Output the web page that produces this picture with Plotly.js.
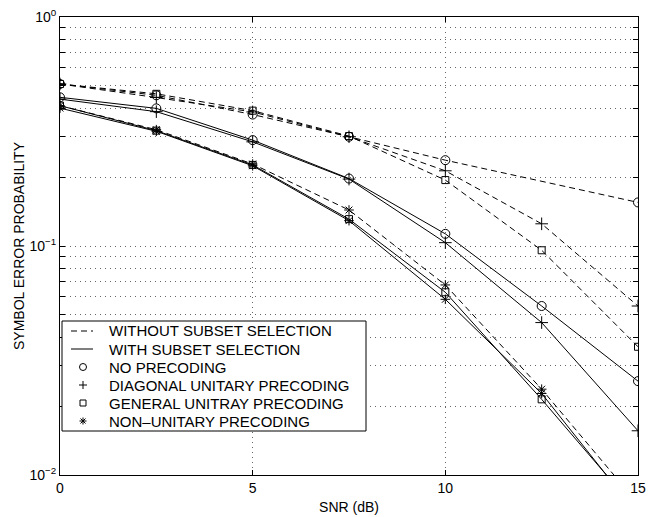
<!DOCTYPE html>
<html>
<head>
<meta charset="utf-8">
<script src="https://cdn.plot.ly/plotly-3.0.1.min.js"></script>
<style>html,body{margin:0;padding:0;background:#fff;}#chart{width:649px;height:517px;}</style>
</head>
<body>
<div id="chart"></div>
<script>
// SNR values (dB)
var snr = [0, 2.5, 5, 7.5, 10, 12.5, 15];
var snrNoSelNoPrec = [0, 2.5, 5, 7.5, 10, 15];

// WITHOUT subset selection (dashed)
var noSel_noPrec   = [0.51, 0.455, 0.375, 0.30, 0.237, 0.155];
var noSel_diag     = [0.51, 0.445, 0.385, 0.30, 0.213, 0.125, 0.0547];
var noSel_general  = [0.51, 0.462, 0.39, 0.302, 0.194, 0.0958, 0.0363];
var noSel_nonUnit  = [0.41, 0.322, 0.228, 0.1436, 0.0676, 0.0237, 0.0075];

// WITH subset selection (solid)
var sel_noPrec     = [0.446, 0.399, 0.29, 0.197, 0.113, 0.0547, 0.0257];
var sel_diag       = [0.438, 0.386, 0.285, 0.196, 0.1034, 0.0463, 0.0156];
var sel_general    = [0.41, 0.319, 0.226, 0.131, 0.0628, 0.0214, 0.0069];
var sel_nonUnit    = [0.40, 0.317, 0.224, 0.129, 0.0585, 0.0227, 0.0067];

var legendLabels = ['WITHOUT SUBSET SELECTION', 'WITH SUBSET SELECTION', 'NO PRECODING',
  'DIAGONAL UNITARY PRECODING', 'GENERAL UNITRAY PRECODING', 'NON\u2013UNITARY PRECODING'];

var xTickVals = [0, 5, 10, 15];
var xTickText = ['0', '5', '10', '15'];
var yTickVals = [0.01, 0.1, 1];
var yTickText = ['10<sup>\u22122</sup>', '10<sup>\u22121</sup>', '10<sup>0</sup>'];
var yMinorVals = [0.02, 0.03, 0.04, 0.05, 0.06, 0.07, 0.08, 0.09,
                  0.2, 0.3, 0.4, 0.5, 0.6, 0.7, 0.8, 0.9];

var DASH = '6px,4px';
var syms = {circle: 'circle-open', plus: 'cross-thin-open', square: 'square-open', star: 'asterisk-open'};
var sizes = {circle: 9, plus: 9, square: 7, star: 8};

function tr(x, y, dash, sym) {
  return {x: x, y: y, type: 'scatter', mode: 'lines+markers', showlegend: false,
    line: {color: '#000', width: 1, dash: dash},
    marker: {symbol: syms[sym], size: sizes[sym], color: '#000', line: {color: '#000', width: 1}}};
}

var traces = [
  tr(snrNoSelNoPrec, noSel_noPrec, DASH, 'circle'),
  tr(snr, noSel_diag, DASH, 'plus'),
  tr(snr, noSel_general, DASH, 'square'),
  tr(snr, noSel_nonUnit, DASH, 'star'),
  tr(snr, sel_noPrec, 'solid', 'circle'),
  tr(snr, sel_diag, 'solid', 'plus'),
  tr(snr, sel_general, 'solid', 'square'),
  tr(snr, sel_nonUnit, 'solid', 'star')
];

// ---- custom legend box (MATLAB style) ----
var M = {l: 60, r: 11, t: 17, b: 42};
var PW = 649 - M.l - M.r, PH = 517 - M.t - M.b;
function PX(p) { return (p - M.l) / PW; }
function PY(p) { return (517 - M.b - p) / PH; }
var legL = 62, legR = 366, legT = 321, legB = 431, row0 = 331, rowH = 18;
var sampleX0 = 71, sampleX1 = 93, markX = 83, textX = 107;
var fontFam = '"Liberation Sans", Arial, Helvetica, sans-serif';

var shapes = [{type: 'rect', xref: 'paper', yref: 'paper', layer: 'above',
  x0: PX(legL), x1: PX(legR), y0: PY(legB), y1: PY(legT),
  line: {color: '#000', width: 1}, fillcolor: '#fff'}];
var annotations = [];
legendLabels.forEach(function(lbl, i){
  var yy = PY(row0 + rowH * i);
  annotations.push({xref: 'paper', yref: 'paper', x: PX(textX), y: yy, xanchor: 'left', yanchor: 'middle',
    text: lbl, showarrow: false, font: {family: fontFam, size: 15, color: '#000'}});
});
function lineSample(i, dash) {
  var yy = PY(row0 + rowH * i);
  shapes.push({type: 'line', xref: 'paper', yref: 'paper', layer: 'above',
    x0: PX(sampleX0), x1: PX(sampleX1), y0: yy, y1: yy, line: {color: '#000', width: 1, dash: dash}});
}
lineSample(0, DASH);
lineSample(1, 'solid');
function pxShape(type, i, x0, x1, y0, y1) {
  var yy = PY(row0 + rowH * i);
  shapes.push({type: type, xref: 'paper', yref: 'paper', layer: 'above',
    xsizemode: 'pixel', ysizemode: 'pixel', xanchor: PX(markX), yanchor: yy,
    x0: x0, x1: x1, y0: y0, y1: y1, line: {color: '#000', width: 1}});
}
pxShape('circle', 2, -3.5, 3.5, -3.5, 3.5);
pxShape('line', 3, -4, 4, 0, 0); pxShape('line', 3, 0, 0, -4, 4);
pxShape('rect', 4, -3, 3, -3, 3);
pxShape('line', 5, -3.5, 3.5, 0, 0); pxShape('line', 5, 0, 0, -3.5, 3.5);
pxShape('line', 5, -2.5, 2.5, -2.5, 2.5); pxShape('line', 5, -2.5, 2.5, 2.5, -2.5);

var gridStyle = {gridcolor: '#666', griddash: '1px,4px', gridwidth: 1};
var layout = {
  width: 649, height: 517,
  margin: M,
  paper_bgcolor: '#fff', plot_bgcolor: '#fff',
  font: {family: fontFam, size: 14, color: '#000'},
  showlegend: false,
  shapes: shapes,
  annotations: annotations,
  xaxis: Object.assign({
    range: [0, 15], tickmode: 'array', tickvals: xTickVals, ticktext: xTickText,
    ticks: 'inside', ticklen: 5, tickcolor: '#000', mirror: 'ticks',
    showline: true, linecolor: '#000', linewidth: 1,
    showgrid: true, zeroline: false,
    tickfont: {size: 14},
    title: {text: 'SNR (dB)', standoff: 7, font: {size: 14}}
  }, gridStyle),
  yaxis: Object.assign({
    type: 'log', range: [-2, 0], tickmode: 'array', tickvals: yTickVals, ticktext: yTickText,
    ticks: 'inside', ticklen: 5, tickcolor: '#000', mirror: 'ticks',
    showline: true, linecolor: '#000', linewidth: 1,
    showgrid: true, zeroline: false,
    minor: Object.assign({tickmode: 'array', tickvals: yMinorVals, ticks: 'inside', ticklen: 5,
      tickcolor: '#000', showgrid: true}, gridStyle),
    tickfont: {size: 14},
    title: {text: 'SYMBOL ERROR PROBABILITY', standoff: 1, font: {size: 14}}
  }, gridStyle)
};

Plotly.newPlot('chart', traces, layout, {staticPlot: true, displayModeBar: false});
</script>
</body>
</html>
